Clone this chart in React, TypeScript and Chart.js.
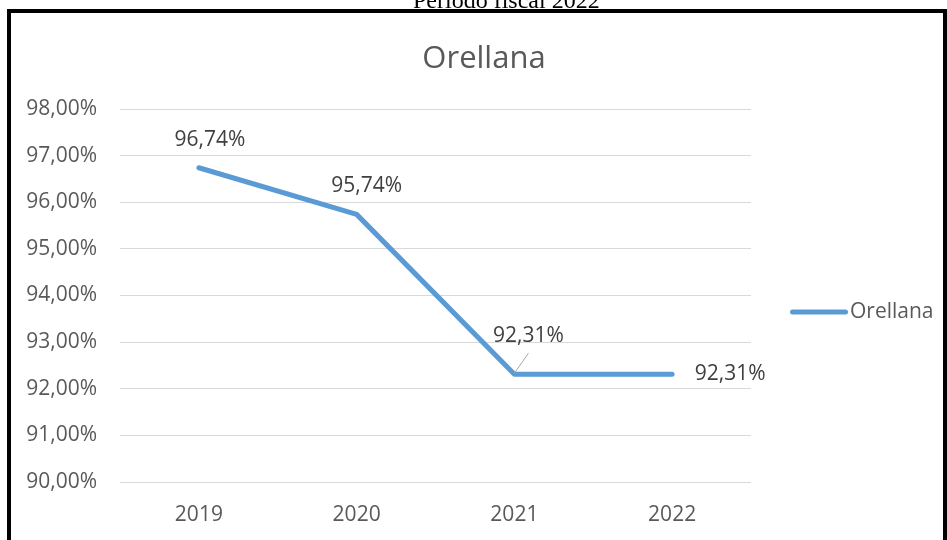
import React, { useEffect, useRef } from "react";
import { Chart, registerables } from "chart.js";

Chart.register(...registerables);

const pageHeading = "Periodo fiscal 2022";
const chartTitle = "Orellana";
const seriesName = "Orellana";
const categories = ["2019", "2020", "2021", "2022"];
const values = [96.74, 95.74, 92.31, 92.31];
const yMin = 90;
const yMax = 98;
const yStep = 1;

const FONT = '"Open Sans", sans-serif';
const LINE_COLOR = "#5B9BD5";
const AXIS_TEXT = "#595959";
const LABEL_TEXT = "#404040";

const fmt = (v: number) => v.toFixed(2).replace(".", ",") + "%";

// relative placement of each data label from its point (style, not data)
const labelOffsets: [number, number][] = [
  [11, -28],
  [10, -28],
  [14, -38.5],
  [58, 0],
];

const overlayPlugin = {
  id: "overlay",
  afterDatasetsDraw(chart: any) {
    const ctx = chart.ctx as CanvasRenderingContext2D;
    const area = chart.chartArea;
    ctx.save();

    // chart title
    ctx.font = `31px ${FONT}`;
    ctx.fillStyle = AXIS_TEXT;
    ctx.textAlign = "center";
    ctx.textBaseline = "alphabetic";
    ctx.fillText(chartTitle, chart.width / 2 + 7, area.top - 41.5);

    // data labels
    const meta = chart.getDatasetMeta(0);
    ctx.font = `21px ${FONT}`;
    ctx.fillStyle = LABEL_TEXT;
    ctx.textBaseline = "middle";
    meta.data.forEach((pt: any, i: number) => {
      const [dx, dy] = labelOffsets[i] || [0, -29];
      ctx.textAlign = "center";
      ctx.fillText(fmt(values[i]), pt.x + dx, pt.y + dy);
    });

    // leader line for the moved label
    const p = meta.data[2];
    if (p) {
      ctx.strokeStyle = "#A6A6A6";
      ctx.lineWidth = 1;
      ctx.beginPath();
      ctx.moveTo(p.x, p.y - 1);
      ctx.lineTo(p.x + 14, p.y - 21);
      ctx.stroke();
    }

    // legend
    const lx = area.right + 39;
    const ly = area.top + 203;
    ctx.strokeStyle = LINE_COLOR;
    ctx.lineWidth = 5;
    ctx.lineCap = "round";
    ctx.beginPath();
    ctx.moveTo(lx + 2.5, ly);
    ctx.lineTo(lx + 55.5, ly);
    ctx.stroke();
    ctx.font = `21px ${FONT}`;
    ctx.fillStyle = AXIS_TEXT;
    ctx.textAlign = "left";
    ctx.textBaseline = "middle";
    ctx.fillText(seriesName, lx + 60, ly);

    ctx.restore();
  },
};

export default function App() {
  const canvasRef = useRef<HTMLCanvasElement | null>(null);

  useEffect(() => {
    document.documentElement.style.overflow = "hidden";
    const canvas = canvasRef.current;
    if (!canvas) return;
    const chart = new Chart(canvas, {
      type: "line",
      data: {
        labels: categories,
        datasets: [
          {
            label: seriesName,
            data: values,
            borderColor: LINE_COLOR,
            backgroundColor: LINE_COLOR,
            borderWidth: 5,
            pointRadius: 0,
            pointHoverRadius: 0,
            tension: 0,
            fill: false,
            borderCapStyle: "round",
            borderJoinStyle: "round",
          },
        ],
      },
      options: {
        responsive: false,
        animation: false,
        devicePixelRatio: 1,
        layout: { padding: { top: 96, right: 192, bottom: 0, left: 0 } },
        plugins: {
          legend: { display: false },
          title: { display: false },
          tooltip: { enabled: false },
        },
        scales: {
          x: {
            type: "category",
            offset: true,
            grid: { display: false, drawTicks: false },
            border: { display: false },
            ticks: {
              color: AXIS_TEXT,
              font: { family: FONT, size: 21, lineHeight: 1 },
              padding: 23,
              maxRotation: 0,
              autoSkip: false,
            },
            afterFit: (s: any) => {
              s.height = 58;
            },
          },
          y: {
            min: yMin,
            max: yMax,
            grid: { color: "#D9D9D9", lineWidth: 1, drawTicks: false },
            border: { display: false },
            ticks: {
              stepSize: yStep,
              color: AXIS_TEXT,
              font: { family: FONT, size: 21, lineHeight: 1 },
              padding: 23,
              callback: (v: any) => fmt(Number(v)),
            },
            afterFit: (s: any) => {
              s.width = 109;
            },
          },
        },
      },
      plugins: [overlayPlugin],
    } as any);
    return () => chart.destroy();
  }, []);

  return (
    <div>
      <div
        style={{
          position: "fixed",
          left: 413,
          top: -12,
          fontFamily: '"Liberation Serif", "Times New Roman", serif',
          fontSize: 24,
          lineHeight: "24px",
          whiteSpace: "nowrap",
          color: "#000",
        }}
      >
        {pageHeading}
      </div>
      <div
        style={{
          position: "fixed",
          left: 7,
          top: 9,
          width: 940,
          height: 600,
          boxSizing: "border-box",
          border: "4px solid #000",
          background: "#fff",
        }}
      >
        <canvas ref={canvasRef} width={932} height={527} style={{ display: "block" }} />
      </div>
    </div>
  );
}
